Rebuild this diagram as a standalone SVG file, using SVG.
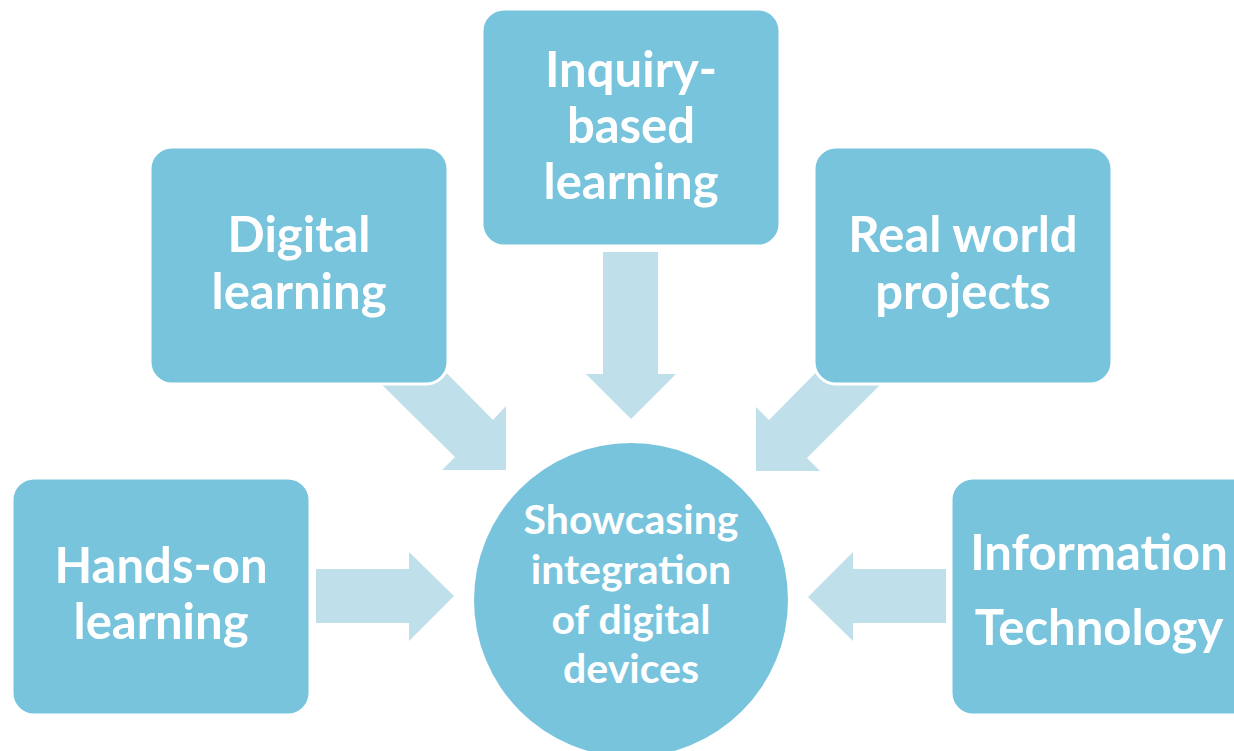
<svg xmlns="http://www.w3.org/2000/svg" width="1234" height="751" viewBox="0 0 1234 751">
<style>
.box{fill:#78C4DD;stroke:#ffffff;stroke-width:3}
.arr{fill:#BFDFEB}
.t{font-family:Lato,"Open Sans","Liberation Sans",sans-serif;font-weight:bold;fill:#ffffff;text-anchor:middle;font-size:49px}
.c{font-size:41px}
</style>
<rect width="1234" height="751" fill="#ffffff"/>
<g id="connectors">
<polygon class="arr" points="603,252 658,252 658,374 676,374 631,419 586,374 603,374"/>
<polygon class="arr" points="316,569 409,569 409,552 454,596 409,641 409,623 316,623"/>
<polygon class="arr" points="946,569 853,569 853,552 808,597 853,641 853,623 946,623"/>
<polygon class="arr" points="407,333 493,420 506,406 506,470 442,470 455,457 369,372"/>
<polygon class="arr" points="855,333 769,420 756,407 756,471 820,471 807,458 893,372"/>
</g>
<g id="center">
<circle cx="631" cy="600" r="157" fill="#78C4DD"/>
<text class="t c" x="631" y="534">Showcasing</text>
<text class="t c" x="631" y="584">integration</text>
<text class="t c" x="631" y="634">of digital</text>
<text class="t c" x="631" y="683">devices</text>
</g>
<g id="inquiry">
<rect class="box" x="482" y="9" width="298" height="237" rx="22"/>
<text class="t" x="631" y="87">Inquiry-</text>
<text class="t" x="631" y="143">based</text>
<text class="t" x="631" y="199">learning</text>
</g>
<g id="digital">
<rect class="box" x="150" y="147" width="298" height="237" rx="22"/>
<text class="t" x="299" y="252">Digital</text>
<text class="t" x="299" y="309">learning</text>
</g>
<g id="realworld">
<rect class="box" x="814" y="147" width="298" height="237" rx="22"/>
<text class="t" x="963" y="252">Real world</text>
<text class="t" x="963" y="309">projects</text>
</g>
<g id="handson">
<rect class="box" x="12" y="478" width="298" height="237" rx="22"/>
<text class="t" x="161" y="583">Hands-on</text>
<text class="t" x="161" y="639">learning</text>
</g>
<g id="infotech">
<rect class="box" x="951" y="478" width="310" height="237" rx="22"/>
<text class="t" x="1099" y="570">Information</text>
<text class="t" x="1099" y="645">Technology</text>
</g>
</svg>
